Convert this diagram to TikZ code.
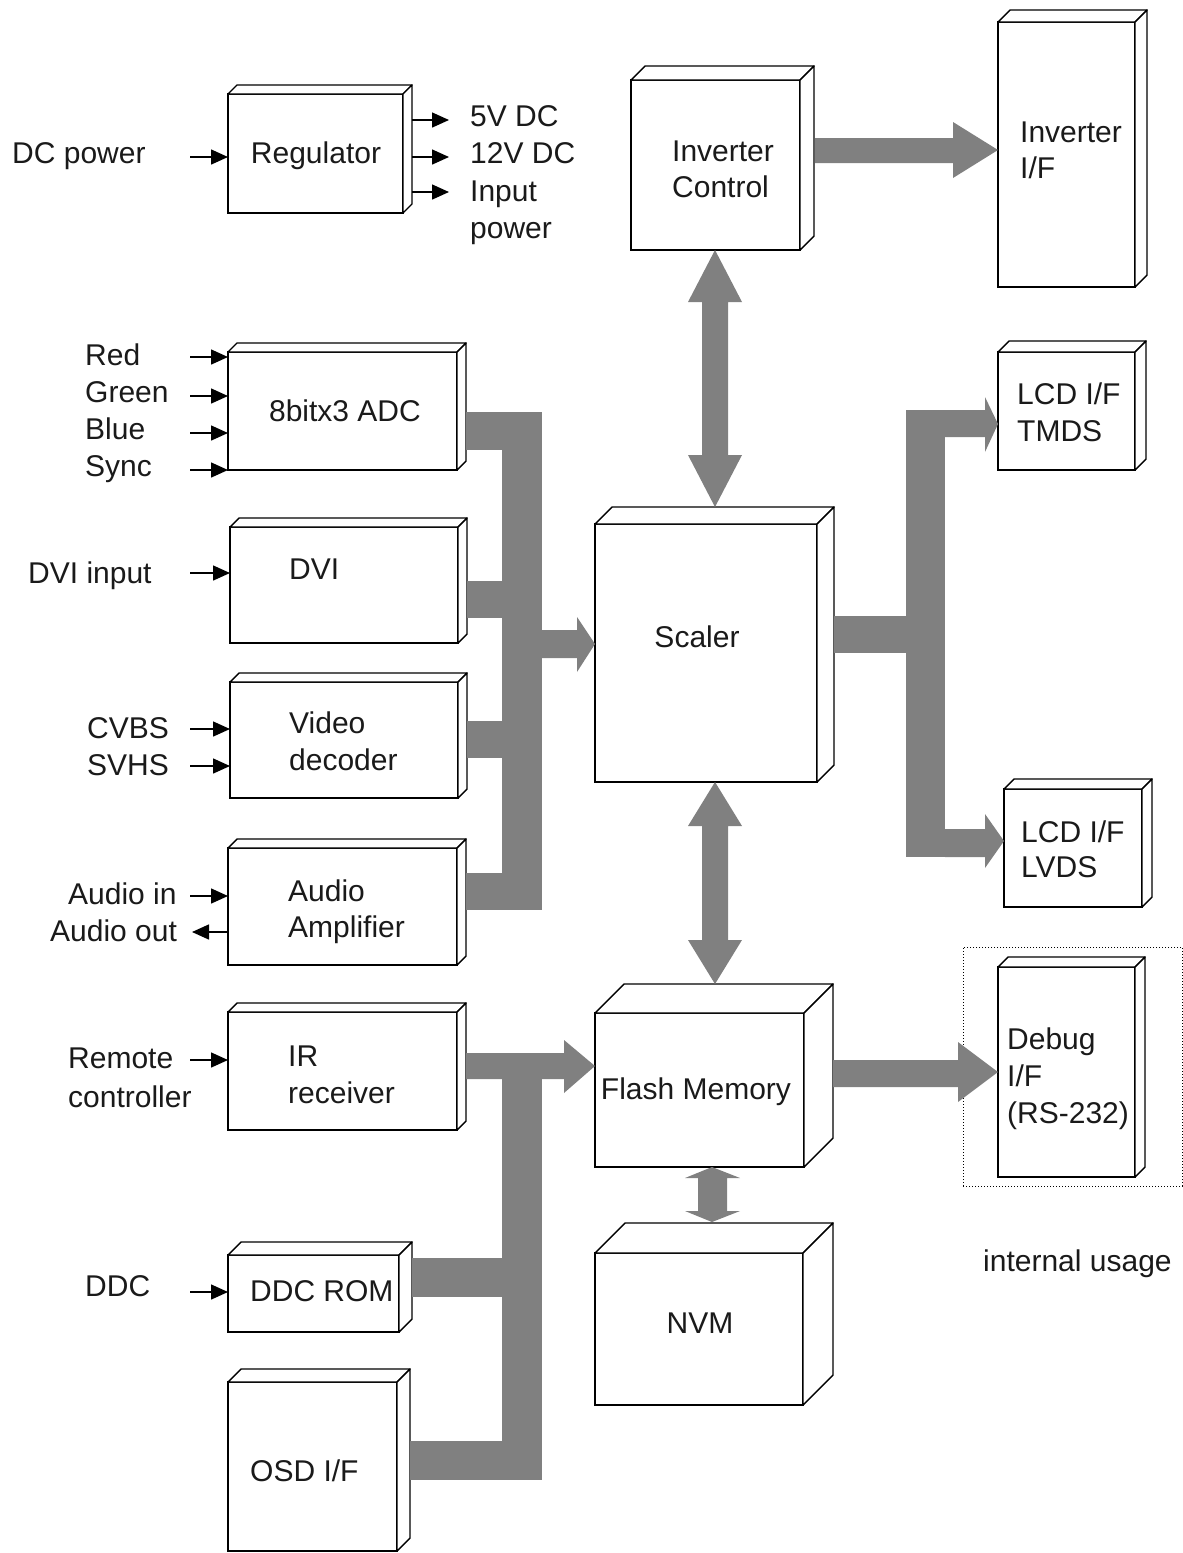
\documentclass[tikz,border=0pt]{standalone}
\usepackage{fontspec}
\setmainfont{Liberation Sans}
\usetikzlibrary{arrows.meta,calc}
\definecolor{busgray}{HTML}{808080}
\definecolor{txt}{HTML}{1A1A1A}
\tikzset{
  frontface/.style={draw=black, line width=1.4pt, fill=white, inner sep=0pt, outer sep=0pt, rectangle},
  edge/.style={draw=black, line width=1.4pt, line join=round, fill=white},
  lbl/.style={anchor=base west, inner sep=0pt, text=txt, font=\fontsize{30}{37}\selectfont},
  clbl/.style={anchor=base, inner sep=0pt, text=txt, font=\fontsize{30}{37}\selectfont},
  thinarrow/.style={draw=black, line width=1.5pt, -{Triangle[length=17pt,width=15pt]}},
  bus/.style={fill=busgray, draw=none},
}
% name, x1, y1, x2, y2, depth
\newcommand{\tdbox}[6]{%
  \node[frontface, minimum width={#4pt-#2pt}, minimum height={#5pt-#3pt}] (#1) at ({(#2+#4)/2},{(#3+#5)/2}) {};
  \draw[edge] (#1.north west) -- ++(#6,-#6) -- ($(#1.north east)+(#6,-#6)$) -- (#1.north east) -- cycle;
  \draw[edge] (#1.north east) -- ++(#6,-#6) -- ($(#1.south east)+(#6,-#6)$) -- (#1.south east) -- cycle;
}
\begin{document}
\begin{tikzpicture}[x=1pt,y=-1pt]
\useasboundingbox (0,0) rectangle (1183,1553);
\fill[white] (0,0) rectangle (1183,1553);

% ---------- boxes ----------
\tdbox{reg}{228}{94}{403}{213}{9}
\tdbox{invc}{631}{80}{800}{250}{14}
\tdbox{invif}{998}{22}{1135}{287}{12}
\tdbox{adc}{228}{352}{457}{470}{9}
\tdbox{dvi}{230}{527}{458}{643}{9}
\tdbox{vdec}{230}{682}{458}{798}{9}
\tdbox{amp}{228}{848}{457}{965}{9}
\tdbox{ir}{228}{1012}{457}{1130}{9}
\tdbox{ddc}{228}{1255}{399}{1332}{13}
\tdbox{osd}{228}{1382}{397}{1551}{13}
\tdbox{scaler}{595}{524}{817}{782}{17}
\tdbox{tmds}{998}{352}{1135}{470}{11}
\tdbox{lvds}{1004}{789}{1142}{907}{10}
\tdbox{flash}{595}{1013}{804}{1167}{29}
\tdbox{nvm}{595}{1253}{803}{1405}{30}
\tdbox{debug}{998}{967}{1135}{1177}{10}

% dotted frame
\node[draw=black, dotted, line width=1pt, inner sep=0pt, minimum width=219pt, minimum height=239pt] (internal) at (1072.5,1066.5) {};

% ---------- gray connectors ----------
% Inverter Control -> Inverter I/F
\fill[bus] (815,138) -- (953,138) -- (953,122) -- (invif.west |- 0,150) -- (953,178) -- (953,163) -- (815,163) -- cycle;
% Inverter Control <-> Scaler
\fill[bus] (invc.south -| 715,0) -- (742,302) -- (728,302) -- (728,455) -- (742,455) -- (715,507) -- (688,455) -- (702,455) -- (702,302) -- (688,302) -- cycle;
% Scaler <-> Flash
\fill[bus] (scaler.south -| 715,0) -- (742,826) -- (728,826) -- (728,940) -- (742,940) -- (715,984) -- (688,940) -- (702,940) -- (702,826) -- (688,826) -- cycle;
% Flash <-> NVM
\fill[bus] (flash.south -| 712,0) -- (740,1178) -- (727,1178) -- (727,1211) -- (740,1211) -- (712,1222) -- (685,1211) -- (698,1211) -- (698,1178) -- (685,1178) -- cycle;
% left upper bus
\fill[bus] (466,412) rectangle (542,450);
\fill[bus] (502,412) rectangle (542,910);
\fill[bus] (467,581) rectangle (502,618);
\fill[bus] (467,721) rectangle (502,758);
\fill[bus] (466,873) rectangle (502,910);
\fill[bus] (542,630) -- (577,630) -- (577,617) -- (scaler.west |- 0,644) -- (577,672) -- (577,658) -- (542,658) -- cycle;
% left lower bus
\fill[bus] (466,1053) -- (564,1053) -- (564,1040) -- (flash.west |- 0,1066) -- (564,1093) -- (564,1079) -- (466,1079) -- cycle;
\fill[bus] (502,1053) rectangle (542,1480);
\fill[bus] (412,1258) rectangle (502,1297);
\fill[bus] (410,1441) rectangle (502,1480);
% right bus
\fill[bus] (834,616) rectangle (906,653);
\fill[bus] (906,410) rectangle (945,857);
\fill[bus] (945,410) -- (985,410) -- (985,397) -- (tmds.west |- 0,424) -- (985,452) -- (985,437) -- (945,437) -- cycle;
\fill[bus] (945,829) -- (985,829) -- (985,814) -- (lvds.west |- 0,841) -- (985,868) -- (985,857) -- (945,857) -- cycle;
% Flash -> Debug
\fill[bus] (833,1060) -- (958,1060) -- (958,1042) -- (debug.west |- 0,1072) -- (958,1102) -- (958,1087) -- (833,1087) -- cycle;

% ---------- thin arrows ----------
\draw[thinarrow] (190,157) -- (reg.west |- 0,157);
\foreach \yy in {120,157,192} \draw[thinarrow] (412,\yy) -- (449,\yy);
\foreach \yy in {357,396,433,470} \draw[thinarrow] (190,\yy) -- (adc.west |- 0,\yy);
\draw[thinarrow] (190,573) -- (dvi.west |- 0,573);
\draw[thinarrow] (190,729) -- (vdec.west |- 0,729);
\draw[thinarrow] (190,766) -- (vdec.west |- 0,766);
\draw[thinarrow] (190,896) -- (amp.west |- 0,896);
\draw[thinarrow] (amp.west |- 0,932) -- (192,932);
\draw[thinarrow] (190,1060) -- (ir.west |- 0,1060);
\draw[thinarrow] (190,1292) -- (ddc.west |- 0,1292);

% ---------- texts ----------
\node[lbl] (tdc) at (12,163) {DC power};
\node[clbl] (treg) at (316,163) {Regulator};
\node[lbl] (t5v) at (470,126) {5V DC};
\node[lbl] (t12v) at (470,163) {12V DC};
\node[lbl] (tin1) at (470,201) {Input};
\node[lbl] (tin2) at (470,238) {power};
\node[lbl] (tic1) at (672,161) {Inverter};
\node[lbl] (tic2) at (672,197) {Control};
\node[lbl] (tif1) at (1020,142) {Inverter};
\node[lbl] (tif2) at (1020,178) {I/F};
\node[lbl] (tred) at (85,365) {Red};
\node[lbl] (tgreen) at (85,402) {Green};
\node[lbl] (tblue) at (85,439) {Blue};
\node[lbl] (tsync) at (85,476) {Sync};
\node[clbl] (tadc) at (345,421) {8bitx3 ADC};
\node[lbl] (tdvii) at (28,583) {DVI input};
\node[lbl] (tdvi) at (289,579) {DVI};
\node[lbl] (tcvbs) at (87,738) {CVBS};
\node[lbl] (tsvhs) at (87,775) {SVHS};
\node[lbl] (tvd1) at (289,733) {Video};
\node[lbl] (tvd2) at (289,770) {decoder};
\node[lbl] (tain) at (68,904) {Audio in};
\node[lbl] (taout) at (50,941) {Audio out};
\node[lbl] (tam1) at (288,901) {Audio};
\node[lbl] (tam2) at (288,937) {Amplifier};
\node[clbl] (tscaler) at (697,647) {Scaler};
\node[lbl] (ttm1) at (1017,404) {LCD I/F};
\node[lbl] (ttm2) at (1017,441) {TMDS};
\node[lbl] (tlv1) at (1021,842) {LCD I/F};
\node[lbl] (tlv2) at (1021,877) {LVDS};
\node[clbl] (tflash) at (696,1099) {Flash Memory};
\node[lbl] (tdb1) at (1007,1049) {Debug};
\node[lbl] (tdb2) at (1007,1086) {I/F};
\node[lbl] (tdb3) at (1007,1123) {(RS-232)};
\node[lbl] (tint) at (983,1271) {internal usage};
\node[lbl] (trm1) at (68,1068) {Remote};
\node[lbl] (trm2) at (68,1107) {controller};
\node[lbl] (tir1) at (288,1066) {IR};
\node[lbl] (tir2) at (288,1103) {receiver};
\node[lbl] (tddc) at (85,1296) {DDC};
\node[lbl] (tddcr) at (250,1301) {DDC ROM};
\node[lbl] (tosd) at (250,1481) {OSD I/F};
\node[clbl] (tnvm) at (700,1333) {NVM};
\end{tikzpicture}
\end{document}
